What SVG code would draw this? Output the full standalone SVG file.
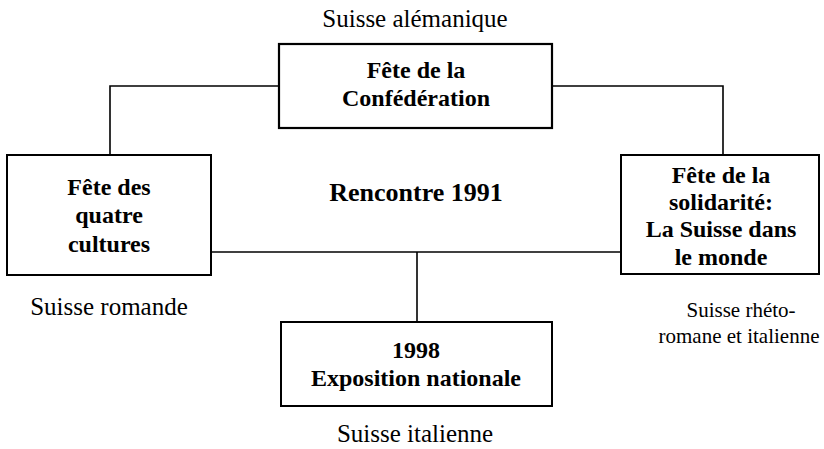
<svg xmlns="http://www.w3.org/2000/svg" width="824" height="449" viewBox="0 0 824 449">
<style>
.box{fill:#fff;stroke:#000;stroke-width:2}
.conn{fill:none;stroke:#000;stroke-width:1.6}
.b{font-family:"Liberation Serif","Times New Roman",serif;font-weight:bold;font-size:24px;text-anchor:middle;fill:#000}
.r{font-family:"Liberation Serif","Times New Roman",serif;font-size:25px;text-anchor:middle;fill:#000}
.rs{font-family:"Liberation Serif","Times New Roman",serif;font-size:21px;text-anchor:middle;fill:#000}
</style>
<rect width="824" height="449" fill="#fff"/>
<g id="connectors">
<polyline class="conn" points="279,86 110,86 110,155"/>
<polyline class="conn" points="552,86 723,86 723,155"/>
<line class="conn" x1="211" y1="252" x2="621" y2="252"/>
<line class="conn" x1="417" y1="252" x2="417" y2="322"/>
</g>
<g id="top">
<rect class="box" x="279" y="44" width="273" height="84" style="stroke-width:2.2"/>
<text class="b" x="416" y="78">Fête de la</text>
<text class="b" x="416" y="106">Confédération</text>
</g>
<g id="left">
<rect class="box" x="7" y="155" width="204" height="120"/>
<text class="b" x="109" y="195">Fête des</text>
<text class="b" x="109" y="223">quatre</text>
<text class="b" x="109" y="252">cultures</text>
</g>
<g id="right">
<rect class="box" x="621" y="155" width="198" height="119"/>
<text class="b" x="721" y="183">Fête de la</text>
<text class="b" x="721" y="210">solidarité:</text>
<text class="b" x="721" y="237">La Suisse dans</text>
<text class="b" x="721" y="265">le monde</text>
</g>
<g id="bottom">
<rect class="box" x="281" y="322" width="271" height="84"/>
<text class="b" x="416" y="358">1998</text>
<text class="b" x="416" y="386">Exposition nationale</text>
</g>
<g id="center">
<text class="b" x="416" y="201" style="font-size:26px">Rencontre 1991</text>
</g>
<g id="labels">
<text class="r" x="415" y="27">Suisse alémanique</text>
<text class="r" x="109" y="315">Suisse romande</text>
<text class="rs" x="741" y="317">Suisse rhéto-</text>
<text class="rs" x="739" y="343">romane et italienne</text>
<text class="r" x="415" y="442">Suisse italienne</text>
</g>
</svg>
